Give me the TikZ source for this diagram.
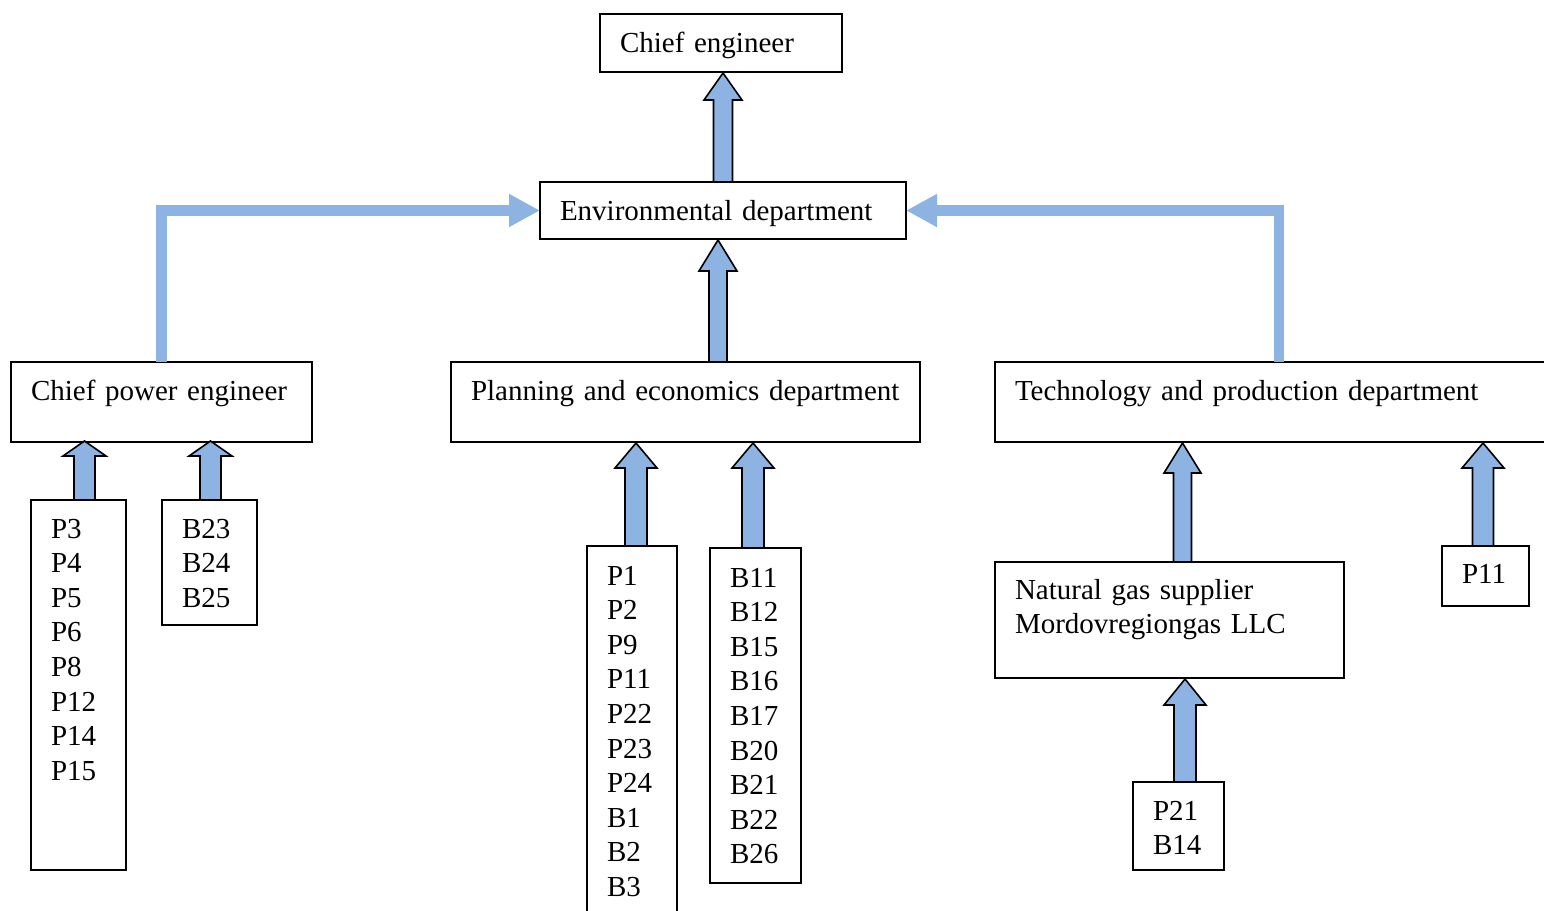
\documentclass[tikz,border=0pt]{standalone}
\usepackage{fontspec}
\setmainfont{Liberation Serif}
\usetikzlibrary{calc,arrows.meta}
\definecolor{abl}{HTML}{8DB3E2}
\tikzset{
  box/.style={draw=black, line width=2pt, anchor=north west, inner xsep=20pt, inner ysep=0pt,
    align=left, outer sep=0pt, font=\fontsize{29pt}{34.6pt}\selectfont},
  blk/.style={draw=black, line width=1.6pt, fill=abl, line join=miter},
  larr/.style={draw=abl, line width=10.7pt, -{Triangle[length=31pt,width=31pt]}},
}
% block arrow: #1 head length, #2 head half width, #3 shaft half width, #4 source anchor, #5 tip
\newcommand\barrow[5]{%
  \draw[blk] ($(#5 |- #4)+(-#3,0)$) -- ($(#5)+(-#3,#1)$) -- ($(#5)+(-#2,#1)$) -- (#5)
    -- ($(#5)+(#2,#1)$) -- ($(#5)+(#3,#1)$) -- ($(#5 |- #4)+(#3,0)$) -- cycle;}
\begin{document}
\begin{tikzpicture}[x=1pt,y=-1pt]
\useasboundingbox (0,0) rectangle (1544,910);
\clip (0,0) rectangle (1544,910);

% boxes
\node[box, text width=202pt, text height=38pt, text depth=20pt] (ce) at (600,14) {Chief engineer};
\node[box, text width=326pt, text height=38pt, text depth=19pt] (env) at (540,182) {Environmental department};
\node[box, text width=261pt, text height=38pt, text depth=42pt] (cpe) at (11,362) {Chief power engineer};
\node[box, text width=429pt, text height=38pt, text depth=42pt] (plan) at (451,362) {\mbox{Planning and economics department}};
\node[box, text width=528pt, text height=38pt, text depth=42pt] (tech) at (995,362) {Technology and production department};
\node[box, text width=55pt, text height=38pt, text depth=332pt] (pl1) at (31,500) {P3\\P4\\P5\\P6\\P8\\P12\\P14\\P15};
\node[box, text width=55pt, text height=38pt, text depth=87pt] (bl1) at (162,500) {B23\\B24\\B25};
\node[box, text width=50pt, text height=39pt, text depth=380pt] (pl2) at (587,546) {P1\\P2\\P9\\P11\\P22\\P23\\P24\\B1\\B2\\B3};
\node[box, text width=51pt, text height=39pt, text depth=296pt] (bl2) at (710,548) {B11\\B12\\B15\\B16\\B17\\B20\\B21\\B22\\B26};
\node[box, text width=309pt, text height=37pt, text depth=79pt] (gas) at (995,562) {Natural gas supplier\\Mordovregiongas LLC};
\node[box, text width=47pt, text height=37pt, text depth=23pt] (p11) at (1442,546) {P11};
\node[box, text width=51pt, text height=38pt, text depth=50pt] (p21) at (1133,782) {P21\\B14};

% arrow tips on the receiving boxes
\coordinate (t0) at (723,73);
\coordinate (t1) at (718,240);
\coordinate (ta) at (84.5,441);
\coordinate (tb) at (210.5,441);
\coordinate (tc) at (636,443);
\coordinate (td) at (753,443);
\coordinate (te) at (1182.5,443);
\coordinate (tf) at (1483,443);
\coordinate (tg) at (1185,679);

% block arrows
\barrow{27}{19}{9.5}{env.north}{t0}
\barrow{31}{19}{9}{plan.north}{t1}
\barrow{15}{21.5}{10.5}{pl1.north}{ta}
\barrow{15}{21.5}{10.5}{bl1.north}{tb}
\barrow{25}{21}{11}{pl2.north}{tc}
\barrow{25}{21}{11}{bl2.north}{td}
\barrow{30}{18.5}{9}{gas.north}{te}
\barrow{25}{21}{10.5}{p11.north}{tf}
\barrow{26}{21}{11}{p21.north}{tg}

% line arrows
\draw[larr] (cpe.north) |- (env.west);
\draw[larr] (tech.north) |- (env.east);
\end{tikzpicture}
\end{document}
